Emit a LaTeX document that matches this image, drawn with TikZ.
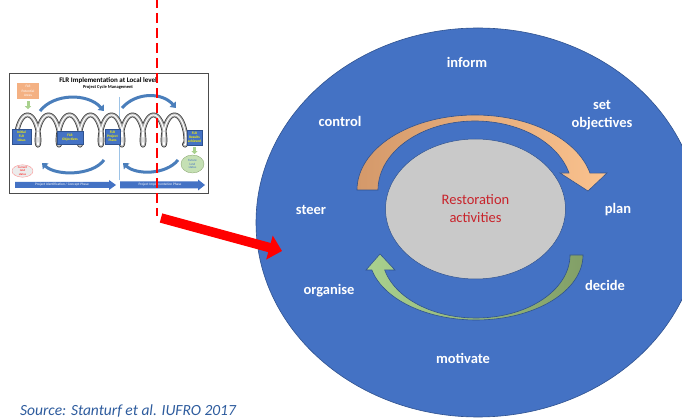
\documentclass[tikz,border=0pt]{standalone}
\usepackage{fontspec}
\setmainfont{Carlito}
\usetikzlibrary{shapes.geometric,arrows.meta}
\definecolor{bigblue}{HTML}{4472C4}
\definecolor{edgeblue}{HTML}{2F528F}
\definecolor{coregray}{HTML}{C9C9C9}
\definecolor{restred}{HTML}{C8232B}
\definecolor{tanL}{HTML}{D4996A}
\definecolor{tanR}{HTML}{FAC28E}
\definecolor{grnL}{HTML}{A9D18E}
\definecolor{grnR}{HTML}{829F67}
\definecolor{srcblue}{HTML}{2E5C9E}
\definecolor{insetarrow}{HTML}{4A7EBB}
\definecolor{peach}{HTML}{F4B183}
\definecolor{lgreen}{HTML}{C5E0B4}
\definecolor{sepblue}{HTML}{9DC3E6}
\begin{document}
\begin{tikzpicture}[x=1pt,y=-1pt,
  lbl/.style={text=white,font=\fontsize{14.5}{18}\selectfont\bfseries,align=center,inner sep=0},
  ibox/.style={fill=bigblue,draw=edgeblue,line width=0.3pt,text=yellow,
    font=\fontsize{3.6}{4.2}\selectfont\bfseries,align=center,inner sep=0},
  itext/.style={font=\fontsize{3.5}{4}\selectfont,text=white,inner sep=0},
  iarc/.style={line width=3pt,insetarrow,-{Triangle[length=5pt,width=8pt]}},
  gdown/.style={line width=3pt,grnL,-{Triangle[length=3pt,width=6pt]}},
  dashline/.style={red,line width=2.6pt,dash pattern=on 10pt off 5pt},
  redarrow/.style={red,line width=9.5pt,-{Triangle[length=13pt,width=24pt]}},
  bandedge/.style={draw=edgeblue,line width=0.6pt}
]
\clip (0,0) rectangle (682,419);
\fill[white] (0,0) rectangle (682,419);

% ---------- inset picture ----------
\node[draw=gray!60!black,line width=0.8pt,fill=white,minimum width=199pt,minimum height=120pt,inner sep=0] (inset) at (108.5,133) {};
\node[font=\fontsize{7}{8}\selectfont\bfseries,inner sep=0] (ititle) at (108,80.5) {FLR Implementation at Local level};
\node[font=\fontsize{4.5}{5}\selectfont\bfseries,inner sep=0] (isub) at (108,87.5) {Project Cycle Management};
\coordinate (septop) at (119,97);
\coordinate (sepbot) at (119,180);
\draw[sepblue,line width=0.6pt] (septop) -- (sepbot);

\draw[iarc] (40,111) .. controls (54,93) and (88,93) .. (104,111);
\draw[iarc] (122,108) .. controls (136,92) and (162,92) .. (176,108);
\draw[iarc] (104,160) .. controls (92,176) and (56,176) .. (42,163);
\draw[iarc] (178,160) .. controls (166,175) and (136,175) .. (123,163);

\foreach \w/\c in {4.8/black!80,3.4/gray!65,1.1/white!90}
  \draw[line width=\w pt,\c,line cap=round] plot[domain=60:2900,samples=700] ({17+\x/360*21-5*sin(\x)},{130+15*cos(\x)});

\node[ibox,minimum width=19pt,minimum height=15pt] (i1) at (21.5,136.5) {Initial\\FLR\\Ideas};
\node[ibox,minimum width=26pt,minimum height=13pt] (i2) at (70,137.5) {FLR\\Objectives};
\node[ibox,minimum width=15pt,minimum height=15pt] (i3) at (112.5,136.5) {FLR\\Project\\Plans};
\node[ibox,minimum width=15pt,minimum height=15pt] (i4) at (194.5,137.5) {FLR\\Results\\achieved};

\node[fill=peach,minimum width=22pt,minimum height=16pt,inner sep=0,text=white,align=center,
  font=\fontsize{3.5}{4.2}\selectfont] (iarea) at (28,91) {FLR\\Potential\\Areas};
\draw[gdown] ([yshift=-2pt]iarea.south) -- ++(0,8);
\draw[gdown] ([yshift=-2pt]i4.south) -- ++(0,7);

\node[ellipse,fill=lgreen,draw=grnR,line width=0.3pt,minimum width=23pt,minimum height=18pt,inner sep=0,
  align=center,text=bigblue,font=\fontsize{3.2}{3.8}\selectfont] (ifut) at (192.5,164) {Future\\land\\status};
\node[ellipse,fill=gray!15,draw=red!50,line width=0.3pt,minimum width=21pt,minimum height=12pt,inner sep=0,
  align=center,text=red,font=\fontsize{3}{3.4}\selectfont] (icur) at (22.5,171) {Current\\land\\status};

\fill[bigblue] (15,182) -- (109,182) -- (109,180) -- (116,185) -- (109,190) -- (109,188) -- (15,188) -- cycle;
\node[itext] (ph1) at (62,185) {Project Identification / Concept Phase};
\fill[bigblue] (120,181.5) -- (198,181.5) -- (198,179.5) -- (205,185) -- (198,190.5) -- (198,188.5) -- (120,188.5) -- cycle;
\node[itext] (ph2) at (160,185) {Project Implementation Phase};

% ---------- dashed line ----------
\coordinate (dtop) at (157,-2);
\coordinate (dbot) at (157,216);
\draw[dashline] (dtop) -- (dbot);

% ---------- big cycle ----------
\node[ellipse,fill=bigblue,draw=edgeblue,line width=0.6pt,minimum width=444pt,minimum height=389pt,inner sep=0] (outer) at (478,222.5) {};

\path[bandedge,left color=tanL,right color=tanR]
  plot[domain=180:13,samples=80] ({475+118*cos(\x)},{190-75*sin(\x)})
  -- (607,173) -- (588,191) -- (560,173)
  -- plot[domain=14.3:180,samples=80] ({475+97*cos(\x)},{190-69*sin(\x)}) -- cycle;

\path[bandedge,left color=grnL,right color=grnR]
  plot[domain=0:-166.7,samples=80] ({476+107*cos(\x)},{255-65*sin(\x)})
  -- (366,270) -- (380,254) -- (395,270)
  -- plot[domain=-166.3:0,samples=80] ({476+94*cos(\x)},{255-63*sin(\x)}) -- cycle;

\node[ellipse,fill=coregray,draw=edgeblue,line width=0.5pt,minimum width=180pt,minimum height=140pt,inner sep=0,
  align=center,text=restred,font=\fontsize{14.5}{18}\selectfont] (core) at (475.5,209) {Restoration\\activities};

\node[lbl] (inform) at (467,62) {inform};
\node[lbl] (setobj) at (602,115.5) {set\\objectives};
\node[lbl] (control) at (340,121) {control};
\node[lbl] (steer) at (311,210) {steer};
\node[lbl] (plan) at (618,210) {plan};
\node[lbl] (organise) at (329,291) {organise};
\node[lbl] (decide) at (605,285) {decide};
\node[lbl] (motivate) at (463,358) {motivate};

% ---------- red arrow ----------
\coordinate (rtail) at (161,218);
\coordinate (rtip) at (282,251);
\draw[redarrow] (rtail) -- (rtip);

% ---------- source ----------
\node[anchor=base west,inner sep=0,text=srcblue,font=\fontsize{15.5}{18}\selectfont\itshape] (src) at (20,415) {Source: Stanturf et al. IUFRO 2017};
\end{tikzpicture}
\end{document}
